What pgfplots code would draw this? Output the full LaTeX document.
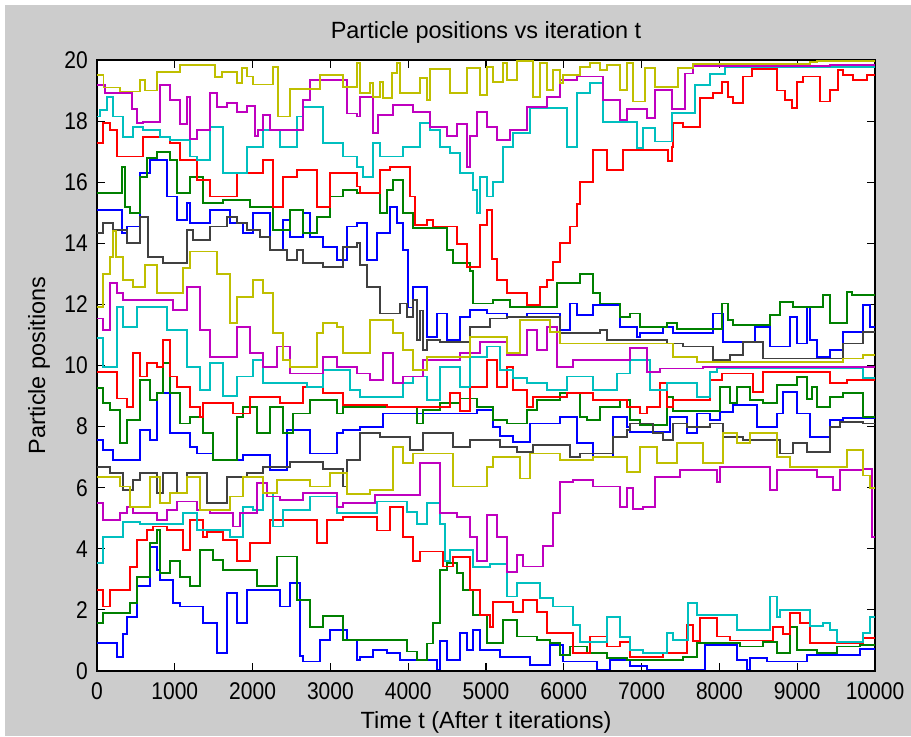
\documentclass[border=0pt]{standalone}
\usepackage{fontspec}
\setmainfont{Liberation Sans}
\usepackage{graphicx}
\usepackage{pgfplots}
\pgfplotsset{compat=1.18}
% MATLAB default line colours
\definecolor{mBlue}{rgb}{0,0,1}
\definecolor{mGreen}{rgb}{0,0.5,0}
\definecolor{mRed}{rgb}{1,0,0}
\definecolor{mCyan}{rgb}{0,0.75,0.75}
\definecolor{mMagenta}{rgb}{0.75,0,0.75}
\definecolor{mYellow}{rgb}{0.75,0.75,0}
\definecolor{mGrey}{rgb}{0.25,0.25,0.25}
\definecolor{figGrey}{rgb}{0.8,0.8,0.8}
\newcommand\tkl[1]{\scalebox{1}[1.15]{#1}}
\begin{document}
\begin{tikzpicture}
\useasboundingbox (-72.75pt,-48.75pt) rectangle (610.5pt,503.25pt);
\fill[white] (-72.75pt,-48.75pt) rectangle (610.5pt,503.25pt);
\fill[figGrey] (-69pt,-48.75pt) rectangle (610.5pt,499.5pt);
\begin{axis}[
  at={(0pt,0pt)}, anchor=south west,
  scale only axis, width=583.5pt, height=458.25pt,
  xmin=0, xmax=10000, ymin=0, ymax=20,
  scaled ticks=false,
  axis background/.style={fill=white},
  axis line style={black, line width=0.9pt},
  tick align=inside, tick pos=both, major tick length=6pt,
  tick style={black, line width=0.8pt},
  xtick={0,1000,2000,3000,4000,5000,6000,7000,8000,9000,10000},
  xticklabels={\tkl{0},\tkl{1000},\tkl{2000},\tkl{3000},\tkl{4000},\tkl{5000},\tkl{6000},\tkl{7000},\tkl{8000},\tkl{9000},\tkl{10000}},
  ytick={0,2,4,6,8,10,12,14,16,18,20},
  yticklabels={\tkl{0},\tkl{2},\tkl{4},\tkl{6},\tkl{8},\tkl{10},\tkl{12},\tkl{14},\tkl{16},\tkl{18},\tkl{20}},
  ticklabel style={font=\fontsize{15.75}{18}\selectfont},
  xticklabel style={anchor=base, inner sep=0pt, yshift=-21pt},
  yticklabel style={anchor=east, inner sep=0pt, xshift=-6.75pt},
  title={Particle positions vs iteration t},
  every axis title/.style={at={(axis description cs:0.5,1.036)}, anchor=base, inner sep=0pt, font=\fontsize{17.6}{20}\selectfont},
  xlabel={Time t (After t iterations)},
  every axis x label/.style={at={(axis description cs:0.5,-0.0933)}, anchor=base, inner sep=0pt, font=\fontsize{17.6}{20}\selectfont},
  ylabel={Particle positions},
  every axis y label/.style={at={(axis description cs:-0.0668,0.5)}, rotate=90, anchor=base, inner sep=0pt, font=\fontsize{17.6}{20}\selectfont},
  every axis plot/.append style={const plot, line width=1.4pt},
]
% first particle of each colour (upper band)
\addplot[mBlue] coordinates {(0,15.09)(316,14.33)(381,14.55)(553,16.29)(681,16.73)(895,15.53)(1024,14.76)(1152,15.31)(1195,14.66)(1452,15.09)(1709,14.66)(1880,14.33)(2009,14.98)(2224,13.78)(2395,14.76)(2481,14.22)(2652,14.98)(2738,14.22)(2909,13.89)(3080,13.45)(3209,14.55)(3338,14.66)(3466,13.45)(3595,14.33)(3766,15.2)(3851,14.66)(3937,13.78)(4002,11.9)(4066,12.58)(4237,10.94)(4366,11.7)(4494,10.83)(4665,11.6)(4794,11.81)(5009,11.7)(5266,11.6)(5523,11.7)(5951,11.16)(6079,12.03)(6165,11.65)(6379,11.98)(6722,11.27)(6937,10.94)(6979,11.05)(7279,11.27)(7408,11.05)(7922,11.7)(8051,10.78)(8457,11.27)(8650,10.62)(8907,11.6)(8994,10.72)(9122,11.92)(9165,10.83)(9251,10.29)(9422,10.51)(9593,11.1)(9850,11.98)(9935,11.27)(10000,11.27)};
\addplot[mGreen] coordinates {(0,15.64)(316,16.51)(360,15.2)(424,14.98)(553,16.18)(638,16.78)(766,17.0)(938,16.73)(1024,15.64)(1195,16.18)(1367,15.31)(1623,15.42)(1967,15.2)(2266,14.44)(2481,15.09)(2652,14.33)(2823,14.87)(2994,15.53)(3167,15.75)(3338,15.64)(3637,14.98)(3723,15.75)(3809,16.07)(3937,14.98)(4066,14.49)(4494,13.78)(4579,13.35)(4794,13.1)(4838,12.03)(5094,12.14)(5308,11.92)(5908,12.69)(6209,13.0)(6379,12.36)(6465,12.03)(6722,11.6)(6851,11.7)(6979,11.27)(7322,11.38)(7450,11.2)(8029,12.03)(8115,11.49)(8179,11.32)(8650,11.65)(8779,12.09)(8950,11.92)(9336,12.3)(9422,11.38)(9636,12.41)(9700,12.3)(10000,12.3)};
\addplot[mRed] coordinates {(0,17.27)(81,17.93)(167,17.71)(252,16.84)(595,17.49)(938,17.27)(1066,16.73)(1281,16.07)(1452,15.53)(1795,16.29)(2138,16.73)(2266,15.2)(2395,16.18)(2566,16.4)(2823,15.2)(2994,16.29)(3338,15.86)(3380,15.64)(3637,16.4)(3766,16.51)(4023,15.53)(4088,14.6)(4237,14.76)(4323,14.55)(4623,13.97)(4751,13.23)(4923,14.6)(5009,15.1)(5073,13.5)(5137,12.8)(5266,12.36)(5523,11.98)(5694,12.58)(5779,12.8)(5865,13.4)(5951,14.0)(6079,14.55)(6165,15.3)(6209,16.0)(6379,17.05)(6551,16.4)(6766,17.05)(7343,16.7)(7386,17.16)(7408,17.93)(7536,17.82)(7751,18.75)(7922,18.91)(8029,19.29)(8115,18.8)(8179,18.58)(8308,19.46)(8415,19.71)(8736,19.0)(8843,18.69)(8929,18.42)(8994,19.29)(9079,19.46)(9293,18.64)(9422,19.02)(9529,19.68)(9593,19.51)(9722,19.35)(9893,19.51)(10000,19.51)};
\addplot[mCyan] coordinates {(0,18.15)(38,18.37)(124,18.8)(210,18.15)(338,17.49)(467,17.82)(595,17.71)(810,17.49)(938,17.38)(1195,16.84)(1281,16.73)(1452,17.82)(1623,16.29)(1924,17.16)(2138,17.71)(2352,17.16)(2566,18.15)(2652,18.47)(2909,17.27)(3167,16.84)(3338,16.51)(3423,16.18)(3551,17.27)(3637,16.84)(3937,17.16)(4152,17.93)(4281,17.71)(4408,17.16)(4537,16.95)(4665,16.29)(4838,15.74)(4880,15.0)(4923,16.18)(5009,15.53)(5094,16.0)(5222,17.16)(5351,17.6)(5566,18.42)(6037,17.16)(6165,18.91)(6336,19.24)(6508,17.98)(6937,17.11)(7022,17.76)(7172,17.33)(7386,18.26)(7687,19.18)(7880,19.54)(8071,19.78)(10000,19.78)};
\addplot[mMagenta] coordinates {(0,19.18)(103,18.91)(445,18.4)(509,17.93)(595,17.98)(810,19.18)(938,18.69)(1066,17.9)(1152,18.8)(1195,17.4)(1281,17.71)(1452,18.91)(1538,18.47)(1667,18.6)(1795,18.3)(1924,18.5)(2031,17.5)(2074,17.71)(2138,18.2)(2224,17.71)(2652,18.69)(2738,19.35)(3209,18.25)(3338,18.15)(3380,18.8)(3551,17.6)(3616,18.2)(3809,18.53)(4066,18.3)(4281,17.82)(4494,17.5)(4623,17.9)(4751,16.51)(4794,17.5)(4880,18.3)(5009,17.82)(5137,17.38)(5308,17.71)(5523,18.47)(5779,18.8)(5951,19.35)(6165,19.46)(6508,18.69)(6722,18.04)(6808,18.4)(7065,18.09)(7172,19.02)(7386,18.4)(7558,19.56)(7665,19.8)(9422,19.84)(10000,19.84)};
\addplot[mYellow] coordinates {(0,19.51)(83,19.1)(296,18.97)(553,19.35)(617,19.0)(766,19.6)(1066,19.84)(1516,19.45)(1602,19.62)(1795,19.24)(1860,19.73)(1924,19.46)(2009,19.2)(2266,19.78)(2331,18.15)(2481,19.05)(2866,19.51)(3167,19.13)(3338,19.89)(3380,18.91)(3509,19.24)(3551,18.8)(3637,19.29)(3680,18.75)(3787,19.57)(3851,19.9)(3895,18.91)(4152,19.4)(4237,18.69)(4281,19.71)(4537,18.91)(4751,19.73)(4923,18.86)(5009,19.78)(5094,19.29)(5222,19.89)(5266,19.35)(5394,19.97)(5608,18.8)(5694,19.89)(5779,19.02)(5865,19.68)(5951,19.24)(5994,19.51)(6209,19.78)(6336,19.89)(6465,19.68)(6551,19.84)(6722,19.02)(6808,19.89)(6893,18.64)(7044,19.73)(7172,19.11)(7472,19.73)(7665,19.87)(9165,19.93)(9251,19.96)(10000,19.96)};
\addplot[mGrey] coordinates {(0,14.33)(81,14.66)(210,14.44)(381,14.0)(553,14.87)(660,13.56)(853,13.35)(1152,14.44)(1238,14.11)(1452,14.55)(1667,14.87)(1795,14.66)(1924,14.44)(2095,14.22)(2224,13.78)(2437,13.45)(2566,13.78)(2652,13.35)(2909,13.23)(3167,13.89)(3338,14.0)(3380,13.3)(3466,12.58)(3637,11.7)(3895,12.03)(3981,11.6)(4066,12.14)(4108,10.83)(4152,11.8)(4194,10.5)(4237,10.83)(4408,10.78)(4794,11.27)(5051,11.54)(5266,11.6)(5951,11.05)(6465,11.16)(6551,10.83)(7322,10.72)(7536,10.62)(7922,10.18)(8137,10.34)(8308,10.78)(8564,10.23)(9593,10.72)(9850,11.1)(10000,11.1)};
% second particle of each colour (middle band)
\addplot[mBlue] coordinates {(0,7.56)(81,7.23)(210,6.91)(553,7.89)(681,7.56)(766,9.09)(938,7.78)(1195,7.34)(1281,7.12)(1495,6.91)(1880,7.07)(2224,6.58)(2437,7.89)(2738,7.12)(3080,7.78)(3167,7.89)(3380,8.0)(3680,8.43)(4880,8.54)(5094,8.0)(5180,7.7)(5351,7.5)(5566,8.1)(5951,8.32)(6165,7.45)(6379,7.01)(6637,8.32)(6808,8.0)(6851,7.83)(7365,8.32)(7579,7.78)(7707,8.43)(7880,8.21)(8008,8.49)(8179,8.7)(8479,8.0)(8736,8.43)(8821,9.14)(8994,8.43)(9165,7.67)(9422,8.21)(9593,8.27)(10000,8.27)};
\addplot[mGreen] coordinates {(0,9.25)(81,8.76)(167,8.54)(296,7.45)(381,8.21)(553,9.53)(681,8.87)(766,9.09)(853,10.07)(938,9.09)(1066,8.1)(1195,8.32)(1367,7.78)(1495,6.91)(1795,8.32)(1880,8.65)(2053,7.78)(2224,8.65)(2395,7.78)(2524,8.43)(2738,8.87)(3080,8.43)(3167,8.65)(4108,8.1)(4194,8.54)(4408,8.76)(4665,8.92)(4880,8.65)(5094,8.21)(5266,8.1)(5523,8.54)(5651,8.87)(5951,9.09)(6209,8.32)(6294,8.21)(6465,8.65)(6722,8.87)(6851,8.21)(6979,8.05)(7322,8.98)(7408,8.5)(8008,9.31)(8137,8.76)(8222,9.31)(8393,8.87)(8564,8.76)(8736,9.36)(8994,9.63)(9122,8.9)(9186,9.3)(9251,8.65)(9422,8.98)(9593,9.09)(9850,8.32)(10000,8.32)};
\addplot[mRed] coordinates {(0,9.79)(252,8.92)(381,8.65)(467,10.4)(553,9.64)(638,10.07)(766,9.96)(853,10.83)(938,9.64)(1024,9.31)(1195,8.65)(1323,8.32)(1367,8.76)(1752,8.43)(1967,8.98)(2352,8.76)(2652,9.31)(2909,9.09)(3167,8.71)(3723,8.65)(4537,9.09)(4665,8.5)(4794,9.31)(5009,10.18)(5137,9.31)(5266,9.96)(5351,9.2)(5523,8.65)(5608,8.98)(6037,9.09)(6379,8.87)(6808,8.65)(6979,8.43)(7065,8.65)(7237,9.42)(7322,8.65)(7408,8.87)(7880,9.53)(8029,9.74)(8437,9.14)(8564,9.8)(9422,9.42)(9636,9.53)(10000,9.53)};
\addplot[mCyan] coordinates {(0,10.89)(81,9.96)(252,11.92)(338,11.27)(509,11.92)(895,11.16)(1152,9.96)(1323,9.2)(1452,10.07)(1623,9.0)(1795,9.64)(2009,10.18)(2138,9.42)(2695,9.31)(2909,9.85)(3252,9.2)(3380,8.98)(3937,9.42)(4066,9.64)(4237,8.87)(4408,9.96)(4665,9.31)(4794,10.29)(5009,10.62)(5180,9.85)(5351,9.6)(5523,9.42)(5779,9.2)(6037,9.64)(6379,9.2)(6680,9.74)(6851,10.18)(7108,9.2)(7322,9.42)(7707,8.98)(7880,9.8)(7965,9.9)(9850,9.58)(10000,9.58)};
\addplot[mMagenta] coordinates {(0,11.54)(81,11.16)(167,12.69)(252,12.36)(338,12.14)(981,11.82)(1152,12.58)(1323,11.16)(1452,10.29)(1795,11.27)(1967,10.4)(2138,9.96)(2309,10.62)(2481,9.74)(2909,10.29)(3080,9.96)(3338,9.74)(3509,9.53)(3680,10.4)(3809,9.42)(3937,9.64)(4194,10.18)(4665,10.4)(4923,10.78)(5266,10.34)(5523,11.16)(5651,10.5)(5779,11.27)(5908,9.96)(6123,10.18)(6851,10.56)(7065,9.8)(7237,9.9)(7794,9.96)(10000,9.96)};
\addplot[mYellow] coordinates {(0,11.92)(81,13.0)(167,13.56)(207,14.4)(249,13.56)(338,12.8)(467,12.58)(617,13.3)(766,12.36)(1110,13.2)(1195,13.73)(1538,13.0)(1709,11.38)(1795,12.25)(2009,12.8)(2138,12.36)(2266,11.05)(2395,10.18)(2481,9.96)(2823,11.05)(2909,11.38)(3080,11.27)(3167,10.4)(3509,11.49)(3809,11.05)(3937,10.5)(4066,9.85)(4237,10.29)(4794,10.94)(5266,10.4)(5437,11.49)(5823,11.1)(5951,10.72)(7322,10.72)(7408,10.29)(7707,10.12)(9593,10.23)(9850,10.34)(10000,10.34)};
\addplot[mGrey] coordinates {(0,6.69)(167,6.47)(338,5.93)(467,6.25)(553,6.47)(766,5.82)(853,6.47)(1024,5.82)(1152,6.47)(1410,5.49)(1667,6.36)(1924,6.47)(2138,6.69)(2481,6.85)(2909,6.6)(3167,6.04)(3215,6.9)(3380,7.78)(3637,7.67)(4023,7.23)(4194,7.78)(4579,7.34)(4794,7.56)(5180,7.34)(5394,7.18)(5608,7.4)(6079,7.0)(6209,7.12)(6637,7.67)(6808,7.89)(6851,8.1)(7150,7.78)(7279,7.56)(7408,8.1)(7579,8.0)(7880,8.1)(8051,7.67)(8308,7.56)(8779,7.12)(8950,7.45)(9122,7.18)(9422,8.0)(9551,8.16)(9850,8.1)(10000,8.1)};
% third particle of each colour (lower band)
\addplot[mBlue] coordinates {(0,0.91)(252,0.47)(338,1.2)(381,1.78)(509,2.77)(681,4.07)(766,3.31)(810,2.98)(981,2.22)(1066,2.11)(1367,1.56)(1538,0.58)(1667,2.55)(1795,1.56)(1924,2.66)(2352,2.11)(2481,2.87)(2610,0.5)(2652,0.31)(2866,1.02)(2994,1.35)(3209,1.02)(3338,0.36)(3380,0.47)(3551,0.69)(3723,0.58)(3895,0.36)(4366,0.05)(4408,0.98)(4494,0.36)(4665,1.24)(4751,0.69)(4838,1.35)(4923,0.69)(5180,0.47)(5566,0.2)(5823,0.85)(5994,0.31)(6422,0.05)(6593,0.36)(6851,0.15)(7065,0.05)(7815,0.85)(8222,0.36)(8350,0.05)(8393,0.42)(8608,0.31)(9122,0.53)(9808,0.71)(10000,0.71)};
\addplot[mGreen] coordinates {(0,1.56)(81,1.89)(424,2.22)(509,3.09)(681,4.18)(766,4.62)(810,3.2)(938,3.6)(1066,3.09)(1195,2.77)(1323,3.96)(1495,3.64)(1623,3.31)(2053,2.77)(2309,3.75)(2566,2.33)(2738,1.45)(2909,1.8)(3167,1.02)(3980,0.64)(4108,0.36)(4237,0.9)(4323,1.56)(4408,3.31)(4494,3.53)(4623,3.2)(4709,2.66)(4838,1.84)(5009,0.91)(5222,1.67)(5394,1.13)(5651,1.02)(5823,0.91)(5951,0.53)(6079,0.8)(6294,0.58)(6551,0.42)(6808,0.36)(7536,0.47)(7707,0.91)(8264,0.8)(8564,0.96)(8736,0.6)(8907,1.45)(8994,0.69)(9251,0.58)(9508,0.8)(9808,0.85)(10000,0.85)};
\addplot[mRed] coordinates {(0,2.66)(81,2.11)(167,2.66)(424,3.4)(509,4.29)(638,4.62)(724,4.73)(895,4.62)(1110,3.96)(1195,4.95)(1367,4.4)(1410,4.56)(1623,4.29)(1795,3.6)(1967,4.18)(2224,4.95)(2823,4.18)(2952,4.95)(3167,5.05)(3595,4.6)(3766,5.38)(3937,4.4)(4066,3.6)(4152,3.91)(4452,3.42)(4579,3.74)(4794,2.66)(4923,1.84)(5051,1.45)(5094,2.27)(5351,1.94)(5480,2.33)(5651,1.94)(5779,1.24)(6123,0.58)(6336,1.13)(6551,0.8)(6722,0.96)(6851,0.47)(7279,0.58)(7579,1.5)(7665,0.98)(7751,1.73)(7965,1.13)(8137,1.0)(8693,1.45)(8821,1.2)(8907,1.89)(9036,1.56)(9165,0.91)(9850,1.07)(10000,1.07)};
\addplot[mCyan] coordinates {(0,3.53)(81,4.4)(338,4.89)(553,4.8)(1110,5.16)(1281,4.62)(1709,4.4)(1880,5.38)(2009,5.27)(2138,5.82)(2266,4.73)(2395,5.27)(2738,5.71)(3080,5.16)(3595,5.55)(3980,5.2)(4108,4.8)(4237,5.49)(4408,4.8)(4472,3.6)(4537,3.96)(4838,3.4)(5051,3.5)(5266,2.44)(5394,2.87)(5694,2.4)(5865,2.11)(6123,1.5)(6209,0.96)(6551,1.78)(6722,1.1)(6851,0.69)(7022,0.58)(7322,1.24)(7408,1.02)(7601,2.22)(7707,1.84)(8222,1.35)(8650,2.44)(8736,1.78)(8779,2.0)(9165,1.46)(9336,1.56)(9422,1.35)(9508,0.96)(9850,1.24)(9935,1.78)(10000,1.78)};
\addplot[mMagenta] coordinates {(0,5.49)(81,4.95)(296,5.16)(381,5.38)(467,5.16)(766,4.95)(895,5.27)(1024,5.55)(1281,5.27)(1452,5.16)(1752,4.73)(1838,5.16)(2053,6.15)(2180,5.71)(2352,5.6)(2652,5.82)(3080,5.38)(3167,5.49)(3573,5.76)(4152,6.8)(4408,5.16)(4623,5.05)(4794,4.4)(4880,3.6)(5009,5.11)(5137,4.4)(5266,3.25)(5394,3.8)(5480,3.42)(5737,4.09)(5865,5.16)(5951,6.2)(6123,6.25)(6379,6.04)(6722,5.38)(6808,6.0)(6893,5.3)(7022,5.38)(7172,6.36)(7494,6.58)(7965,6.2)(8008,6.69)(8650,5.93)(8736,6.58)(9251,6.36)(9464,5.93)(9551,6.58)(9850,6.6)(9960,4.4)(10000,4.4)};
\addplot[mYellow] coordinates {(0,6.36)(296,6.04)(424,5.38)(681,6.36)(810,5.49)(938,5.82)(1152,6.36)(1323,5.27)(1709,5.71)(1880,6.36)(2138,5.82)(2309,6.25)(2738,6.04)(2994,6.47)(3209,5.8)(3509,5.93)(3809,7.34)(3937,6.8)(4066,7.12)(4579,6.04)(5009,6.69)(5094,7.01)(5437,6.3)(5566,7.12)(5951,6.9)(6379,7.0)(6808,6.5)(6979,7.34)(7194,6.8)(7450,7.45)(7794,6.8)(8051,7.78)(8222,7.45)(8393,7.78)(8736,7.01)(8907,6.69)(9636,7.23)(9850,6.4)(9935,6.0)(10000,6.0)};
\end{axis}
\end{tikzpicture}
\end{document}
